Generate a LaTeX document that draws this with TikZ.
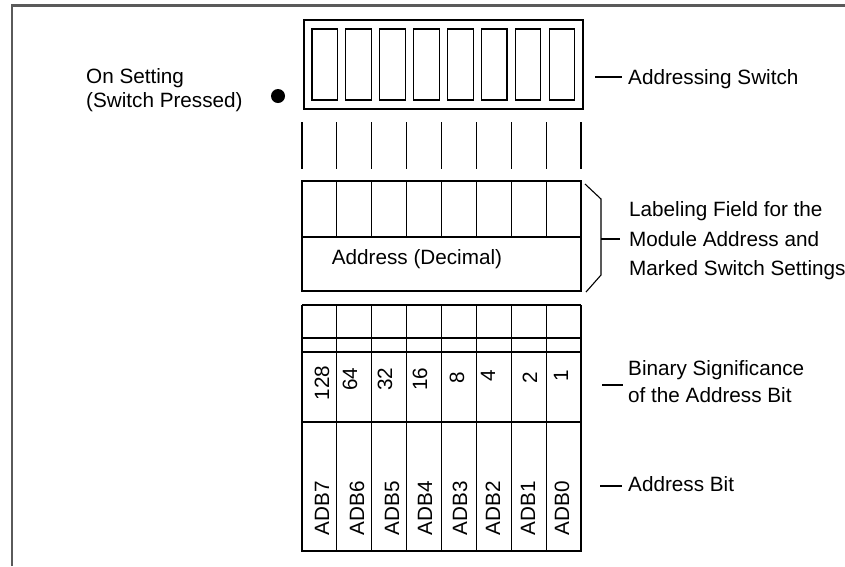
\documentclass[tikz,border=0pt]{standalone}
\usepackage{fontspec}
\setmainfont{Liberation Sans}
\usetikzlibrary{calc}
\definecolor{framec}{HTML}{5A5A5A}
\tikzset{
  frame/.style={draw=framec, line width=2.4pt},
  grid/.style={draw=black, line width=1.1pt},
  thickrule/.style={draw=black, line width=2.8pt},
  txt/.style={inner sep=0pt, font=\fontsize{20.7}{24}\selectfont},
  lab/.style={txt, anchor=west, align=left},
  rot/.style={txt, rotate=90},
  tick/.style={draw=black, line width=1.1pt},
  ondot/.style={circle, fill=black, inner sep=0pt, minimum size=14pt},
}
\newcommand{\colx}[1]{302+34.875*#1}

\begin{document}
\begin{tikzpicture}[x=1pt,y=-1pt]
  \useasboundingbox (0,0) rectangle (845,566);
  \draw[frame] (12,566) -- (12,5.5) -- (845,5.5);
  % addressing switch
  \draw[grid] (304,20) rectangle (583,109);
  \foreach \i in {0,...,7} \draw[grid] ({312+33.9*\i},29) rectangle ++(25.5,71);
  \node[ondot] (on) at (278,96) {};
  \node[lab, font=\fontsize{20.7}{24}\selectfont] (onlab) at (86,90) {On Setting\\(Switch Pressed)};
  % leads
  \foreach \i in {0,...,8} \draw[grid] ({\colx{\i}},122) -- ({\colx{\i}},169);
  % labeling field
  \draw[grid] (302,181) rectangle (581,291);
  \draw[grid] (302,237) -- (581,237);
  \foreach \i in {1,...,7} \draw[grid] ({\colx{\i}},181) -- ({\colx{\i}},237);
  \node[txt] (dec) at (417,259) {Address (Decimal)};
  % bit table
  \foreach \yy in {305,338,352,422} \draw[grid] (302,\yy) -- (581,\yy);
  \foreach \i in {0,...,8} \draw[grid] ({\colx{\i}},305) -- ({\colx{\i}},551);
  \draw[thickrule] (301,551) -- (582,551);
  \foreach \v/\x/\y in {128/322/383, 64/350/379, 32/385/379, 16/420/379,
                        8/457/378, 4/488/376, 2/530/378, 1/561/376}
    \node[rot] (w\v) at (\x,\y) {\v};
  \foreach \b/\x in {7/322, 6/357, 5/392, 4/425, 3/460, 2/493, 1/528, 0/562}
    \node[rot] (adb\b) at (\x,508) {ADB\b};
  % labels on the right
  \node[lab] (swlab) at (628,79) {Addressing Switch};
  \node[lab, font=\fontsize{20.7}{29.5}\selectfont] (lflab) at (629,240.7) {Labeling Field for the\\Module Address and\\Marked Switch Settings};
  \node[lab, font=\fontsize{20.7}{27}\selectfont] (bslab) at (628,381.3) {Binary Significance\\of the Address Bit};
  \node[lab] (ablab) at (628,484) {Address Bit};
  \draw[grid] (585,184) -- (601,199) -- (601,275) -- (586,292);
  \coordinate (tsw) at (595,77);
  \coordinate (tlf) at (601,239);
  \coordinate (tbs) at (602,385);
  \coordinate (tab) at (600,486);
  \draw[tick, shorten >=6pt] (tsw) -- (tsw -| swlab.west);
  \draw[tick, shorten >=9pt] (tlf) -- (tlf -| lflab.west);
  \draw[tick, shorten >=5pt] (tbs) -- (tbs -| bslab.west);
  \draw[tick, shorten >=6pt] (tab) -- (tab -| ablab.west);
\end{tikzpicture}
\end{document}
